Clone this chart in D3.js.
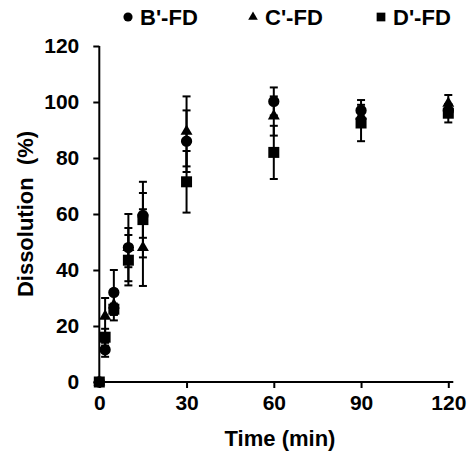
<!DOCTYPE html>
<html lang="en">
<head>
<meta http-equiv="Content-Type" content="text/html; charset=utf-8" />
<title>Dissolution profile</title>
<style>
   body { margin:0; padding:0; background:white; }
   svg text { font-family:"Liberation Sans", Arial, sans-serif; font-weight:bold; fill:black; }
</style>
<script src="https://d3js.org/d3.v7.min.js"></script>
</head>
<body>
<svg id="main" width="468" height="452"></svg>
<script>
// time points (min)
var time = [0, 2, 5, 10, 15, 30, 60, 90, 120];
// B'-FD (circle)
var bMean = [0, 11.5, 32, 48, 59.5, 86, 100.2, 97, 97];
var bErr  = [0, 2.5, 8, 12, 8, 11, 5, 3.7, 2];
// C'-FD (triangle)
var cMean = [0, 23.5, 27.5, 48, 48, 89.5, 95, 95, 99.5];
var cErr  = [0, 6.5, 5.5, 7, 13.7, 12.5, 7, 3, 3];
// D'-FD (square)
var dMean = [0, 16, 26, 43.5, 58, 71.5, 82, 92.5, 96];
var dErr  = [0, 3, 2, 9, 13.5, 11, 9.5, 6.5, 3.3];

var xTicks = [0, 30, 60, 90, 120];
var yTicks = [0, 20, 40, 60, 80, 100, 120];

var series = [
   {name:"B'-FD", mean:bMean, err:bErr, sym:d3.symbolCircle, size:100, lsize:66},
   {name:"C'-FD", mean:cMean, err:cErr, sym:d3.symbolTriangle, size:62, lsize:40},
   {name:"D'-FD", mean:dMean, err:dErr, sym:d3.symbolSquare, size:121, lsize:76}
];

var svg = d3.select('#main');
var x = d3.scaleLinear().domain([0,120]).range([99.3,448.3]);
var y = d3.scaleLinear().domain([0,120]).range([382,46]);

//axes
var gx = svg.append('g').attr('transform','translate(0,'+y(0)+')')
   .call(d3.axisBottom(x).tickValues(xTicks).tickSize(6).tickSizeOuter(0).tickPadding(7));
var gy = svg.append('g').attr('transform','translate('+x(0)+',0)')
   .call(d3.axisLeft(y).tickValues(yTicks).tickSize(6).tickSizeOuter(0).tickPadding(14));
[gx,gy].forEach(function(g) {
   g.select('.domain').remove();
   g.selectAll('line').attr('stroke','black').attr('stroke-width',2);
   g.selectAll('text').style('font-size','21px');
});
svg.append('line').attr('x1',x(0)-2).attr('x2',x(120)+5).attr('y1',y(0)).attr('y2',y(0))
   .attr('stroke','black').attr('stroke-width',2);
svg.append('line').attr('x1',x(0)).attr('x2',x(0)).attr('y1',y(0)+1).attr('y2',y(120))
   .attr('stroke','black').attr('stroke-width',2);

//axis titles
svg.append('text').attr('x',280).attr('y',446).attr('text-anchor','middle')
   .style('font-size','22px').text('Time (min)');
svg.append('text').attr('transform','translate(33,'+((y(0)+y(120))/2)+') rotate(-90)')
   .attr('text-anchor','middle').style('font-size','22px').style('white-space','pre')
   .text('Dissolution  (%)');

//error bars and markers
series.forEach(function(s) {
   var g = svg.append('g');
   time.forEach(function(t,i) {
      if (s.err[i]>0) {
         var xs = x(t), lo = y(s.mean[i]-s.err[i]), hi = y(s.mean[i]+s.err[i]);
         g.append('line').attr('x1',xs).attr('x2',xs).attr('y1',lo).attr('y2',hi)
            .attr('stroke','black').attr('stroke-width',2);
         [lo,hi].forEach(function(yy) {
            g.append('line').attr('x1',xs-4).attr('x2',xs+4).attr('y1',yy).attr('y2',yy)
               .attr('stroke','black').attr('stroke-width',2);
         });
      };
   });
   g.selectAll('path').data(time).enter().append('path')
      .attr('d', d3.symbol().type(s.sym).size(s.size))
      .attr('transform', function(t,i) { return 'translate('+x(t)+','+y(s.mean[i])+')'; })
      .attr('fill','black');
});

//legend
var lx = [128, 253, 381];
series.forEach(function(s,i) {
   svg.append('path').attr('d', d3.symbol().type(s.sym).size(s.lsize)())
      .attr('transform','translate('+lx[i]+',17)').attr('fill','black');
   svg.append('text').attr('x',lx[i]+12).attr('y',25).style('font-size','22px').text(s.name);
});
</script>
</body>
</html>
